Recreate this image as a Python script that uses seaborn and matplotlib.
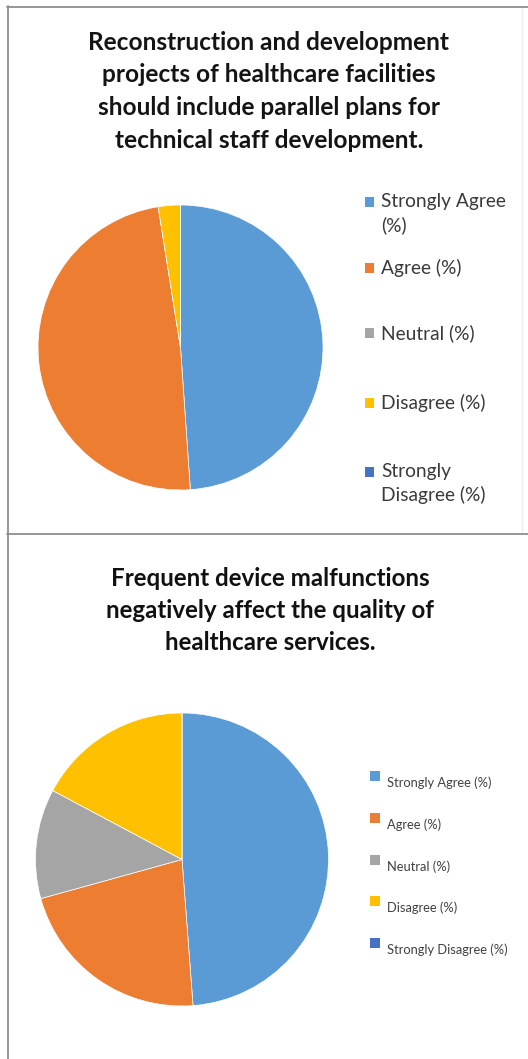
import textwrap

import matplotlib.pyplot as plt
import seaborn as sns
from matplotlib.lines import Line2D
from matplotlib.patches import Rectangle

# Survey responses (percent of respondents)
categories = ["Strongly Agree (%)", "Agree (%)", "Neutral (%)",
              "Disagree (%)", "Strongly Disagree (%)"]
staff_plans = [48.9, 48.6, 0.0, 2.5, 0.0]
device_malfunctions = [48.8, 21.9, 12.1, 17.2, 0.0]

title_staff = ("Reconstruction and development\nprojects of healthcare facilities\n"
               "should include parallel plans for\ntechnical staff development.")
title_devices = ("Frequent device malfunctions\nnegatively affect the quality of\n"
                 "healthcare services.")

palette = sns.color_palette(["#5B9BD5", "#ED7D31", "#A5A5A5", "#FFC000", "#4472C4"])

sns.set_theme(style="white")
plt.rcParams["font.family"] = ["Lato", "DejaVu Sans"]

W, H = 528, 1059
fig = plt.figure(figsize=(W / 100, H / 100), dpi=100)
fig.patch.set_facecolor("white")


def fx(px):
    return px / W


def fy(py):
    return 1 - py / H


def pie_axes(cx, cy, r):
    ax = fig.add_axes([fx(cx - r), fy(cy + r), 2 * r / W, 2 * r / H])
    return ax


def draw_pie(ax, values):
    ax.pie(values, colors=palette, startangle=90, counterclock=False,
           wedgeprops=dict(edgecolor="white", linewidth=0.5))
    ax.set_xlim(-1, 1)
    ax.set_ylim(-1, 1)
    ax.set_axis_off()


def draw_legend(x_box, x_text, rows, box, size, color, text_dy, line_gap, wrap=None):
    for cat, col, y in zip(categories, palette, rows):
        fig.patches.append(Rectangle((fx(x_box), fy(y + box / 2)), box / W, box / H,
                                     transform=fig.transFigure, facecolor=col,
                                     edgecolor="none"))
        label = textwrap.fill(cat, wrap) if wrap else cat
        for i, line in enumerate(label.split("\n")):
            fig.text(fx(x_text), fy(y + text_dy + i * line_gap), line,
                     ha="left", va="center", fontsize=size, color=color)


# --- panel frames
frame_kw = dict(transform=fig.transFigure, color="#8f8f8f", linewidth=1.3)
fig.lines.append(Line2D([fx(7), fx(528)], [fy(6.5), fy(6.5)], **frame_kw))
fig.lines.append(Line2D([fx(7), fx(528)], [fy(533.5), fy(533.5)], **frame_kw))
fig.lines.append(Line2D([fx(7.5), fx(7.5)], [fy(6), fy(1059)], **frame_kw))
fig.lines.append(Line2D([fx(522), fx(522)], [fy(8), fy(532)],
                        transform=fig.transFigure, color="#ececec", linewidth=1))

# --- upper chart
for i, line in enumerate(title_staff.split("\n")):
    fig.text(fx(269), fy(42 + i * 32.7), line, ha="center", va="center",
             fontsize=17.6, fontweight="bold", color="#141414")
ax1 = pie_axes(180.5, 347.5, 142.5)
draw_pie(ax1, staff_plans)
draw_legend(365, 381, [202, 268, 333, 403, 472], 9, 13.8, "#3a3a3a", 0, 23, wrap=14)

# --- lower chart
for i, line in enumerate(title_devices.split("\n")):
    fig.text(fx(270), fy(578 + i * 32), line, ha="center", va="center",
             fontsize=17.4, fontweight="bold", color="#111111")
ax2 = pie_axes(182, 859.5, 146.5)
draw_pie(ax2, device_malfunctions)
draw_legend(370, 387, [776, 818, 860, 901, 943], 10, 9.3, "#404040", 7, 0)

fig.savefig("out.png", dpi=100, facecolor="white")
